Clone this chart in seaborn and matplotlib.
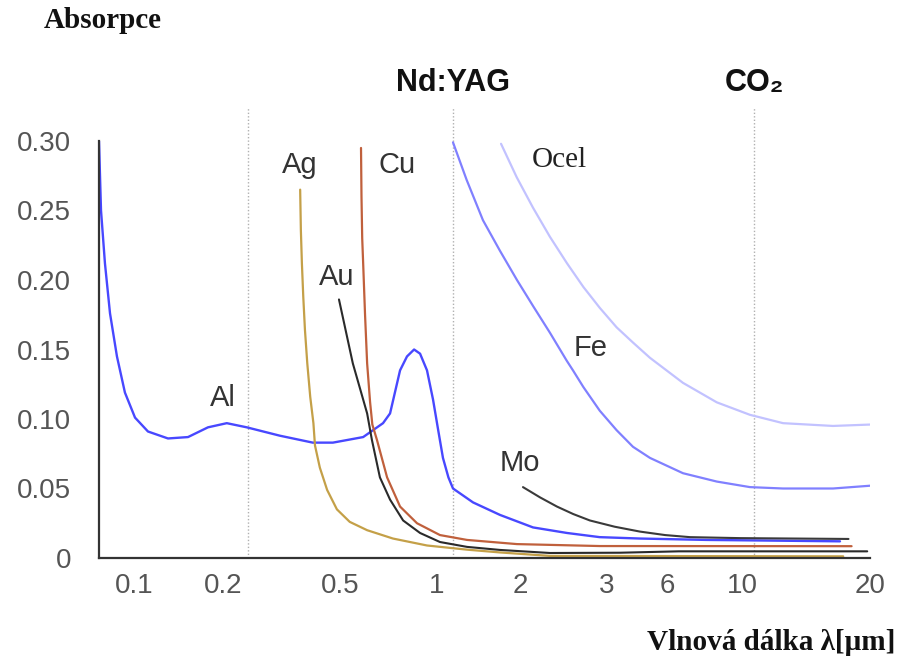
import numpy as np
import pandas as pd
import matplotlib
matplotlib.use("Agg")
import matplotlib.pyplot as plt
import seaborn as sns

# data: wavelength [um] vs absorption
al_wl = [0.0762, 0.0774, 0.0798, 0.0830, 0.0876, 0.0932, 0.1008, 0.1115, 0.1303, 0.1523, 0.1779,
         0.206, 0.241, 0.312, 0.404, 0.473, 0.590, 0.680, 0.715, 0.768, 0.807, 0.849, 0.886,
         0.931, 0.972, 1.010, 1.051, 1.10, 1.143, 1.351, 1.692, 2.125, 2.49, 2.90, 4.39, 7.88, 17.0]
al_abs = [0.300, 0.250, 0.212, 0.176, 0.145, 0.119, 0.101, 0.091, 0.086, 0.087, 0.094,
          0.097, 0.094, 0.088, 0.083, 0.083, 0.087, 0.097, 0.104, 0.135, 0.145, 0.150, 0.147,
          0.135, 0.114, 0.092, 0.072, 0.058, 0.050, 0.040, 0.031, 0.022, 0.018, 0.015, 0.014, 0.013, 0.012]

ag_wl = [0.366, 0.368, 0.371, 0.375, 0.380, 0.387, 0.396, 0.406, 0.411, 0.427, 0.452, 0.488,
         0.536, 0.607, 0.730, 0.931, 1.285, 1.692, 2.300, 17.3]
ag_abs = [0.265, 0.236, 0.212, 0.188, 0.164, 0.140, 0.116, 0.097, 0.081, 0.065, 0.049, 0.035,
          0.026, 0.020, 0.014, 0.009, 0.006, 0.004, 0.0015, 0.0012]

cu_wl = [0.581, 0.583, 0.586, 0.590, 0.598, 0.607, 0.620, 0.630, 0.651, 0.700, 0.768, 0.867,
         1.025, 1.285, 1.950, 2.90, 18.1]
cu_abs = [0.295, 0.260, 0.230, 0.212, 0.175, 0.140, 0.112, 0.096, 0.085, 0.058, 0.037, 0.025,
          0.0165, 0.013, 0.010, 0.0086, 0.0085]

au_wl = [0.496, 0.548, 0.607, 0.628, 0.665, 0.715, 0.785, 0.886, 1.025, 1.285, 1.692, 2.300,
         3.5, 6.5, 19.7]
au_abs = [0.186, 0.140, 0.104, 0.085, 0.058, 0.042, 0.027, 0.018, 0.0115, 0.008, 0.0058, 0.0036,
          0.0038, 0.0048, 0.0048]

mo_wl = [2.028, 2.196, 2.376, 2.564, 2.77, 3.28, 4.39, 5.87, 7.02, 9.86, 17.8]
mo_abs = [0.051, 0.0436, 0.037, 0.0316, 0.027, 0.0225, 0.019, 0.0165, 0.015, 0.0143, 0.0137]

fe_wl = [1.143, 1.281, 1.468, 1.692, 1.950, 2.128, 2.300, 2.486, 2.56, 2.687, 2.90, 3.35,
         4.05, 4.93, 6.69, 8.42, 10.44, 12.49, 16.37, 20.0]
fe_abs = [0.299, 0.272, 0.243, 0.221, 0.200, 0.181, 0.162, 0.142, 0.135, 0.123, 0.106, 0.092,
          0.080, 0.072, 0.061, 0.055, 0.051, 0.050, 0.050, 0.052]

ocel_wl = [1.707, 1.945, 2.125, 2.300, 2.49, 2.687, 2.90, 3.35, 4.05, 4.93, 6.69, 8.42,
           10.44, 12.49, 16.37, 20.0]
ocel_abs = [0.298, 0.274, 0.252, 0.231, 0.212, 0.195, 0.180, 0.166, 0.155, 0.144, 0.126, 0.112,
            0.103, 0.097, 0.095, 0.096]

laser_wl = [0.243, 1.14, 10.7]
laser_names = ["", "Nd:YAG", "CO₂"]

x_ticks = [0.1, 0.2, 0.5, 1, 2, 3, 6, 10, 20]
x_ticklabels = ["0.1", "0.2", "0.5", "1", "2", "3", "6", "10", "20"]
y_ticks = [0, 0.05, 0.10, 0.15, 0.20, 0.25, 0.30]
y_ticklabels = ["0", "0.05", "0.10", "0.15", "0.20", "0.25", "0.30"]

# the original axis is stretched unevenly; anchor wavelengths -> axis position
scale_anchor_um = np.array([0.0762, 0.1, 0.2, 0.5, 1, 2, 3, 6, 10, 20])
scale_anchor_px = np.array([99, 134, 223, 340, 437, 520, 607, 667, 742, 870], dtype=float)


def fwd(x):
    x = np.clip(np.asarray(x, dtype=float), 1e-6, None)
    return np.interp(np.log10(x), np.log10(scale_anchor_um), scale_anchor_px)


def inv(p):
    return 10 ** np.interp(p, scale_anchor_px, np.log10(scale_anchor_um))


sns.set_style("white")
sans = ["Liberation Sans", "DejaVu Sans"]
serif = ["Liberation Serif", "DejaVu Serif"]
plt.rcParams["font.family"] = sans

fig = plt.figure(figsize=(8.99, 6.62), dpi=100)
ax = fig.add_axes([99 / 899, 1 - 558 / 662, (870 - 99) / 899, (558 - 141) / 662])
ax.set_xscale("function", functions=(fwd, inv))

series = [
    (al_wl, al_abs, "#4848ff", 1.7),
    (ocel_wl, ocel_abs, "#c2c2ff", 1.6),
    (fe_wl, fe_abs, "#8080ff", 1.6),
    (ag_wl, ag_abs, "#c4a048", 1.6),
    (cu_wl, cu_abs, "#c0603c", 1.6),
    (au_wl, au_abs, "#2a2a2a", 1.5),
    (mo_wl, mo_abs, "#3a3a3a", 1.5),
]
for wl, ab, col, lw in series:
    df = pd.DataFrame({"wl": wl, "abs": ab})
    sns.lineplot(data=df, x="wl", y="abs", color=col, lw=lw, errorbar=None,
                 legend=False, ax=ax)

# laser wavelengths as dotted guides
for wl, name in zip(laser_wl, laser_names):
    ax.plot([wl, wl], [0, 0.324], ls=(0, (1, 1.5)), lw=1, color="#b0b0b0",
            clip_on=False, zorder=0)
    if name:
        ax.text(wl, 0.342, name, ha="center", va="center", fontsize=22,
                fontweight="bold", color="#111111", family=sans)

# curve labels
labels = [("Al", 0.181, 0.115), ("Ag", 0.317, 0.283), ("Cu", 0.656, 0.283),
          ("Au", 0.424, 0.202), ("Mo", 1.692, 0.068), ("Fe", 2.57, 0.151)]
for txt, lx, ly in labels:
    ax.text(lx, ly, txt, ha="left", va="center", fontsize=21, color="#333333")
ax.text(2.11, 0.286, "Ocel", ha="left", va="center", fontsize=21,
        color="#222222", family=serif)

ax.set_xlim(0.0762, 20)
ax.set_ylim(0, 0.30)
ax.set_xticks(x_ticks)
ax.set_xticklabels(x_ticklabels)
ax.set_yticks(y_ticks)
ax.set_yticklabels(y_ticklabels)
ax.minorticks_off()
ax.set_xlabel("")
ax.set_ylabel("")

sns.despine(ax=ax)
for s in ["left", "bottom"]:
    ax.spines[s].set_color("#333333")
    ax.spines[s].set_linewidth(1.6)
ax.tick_params(direction="inout", length=12, width=1.4, color="#333333",
               labelsize=20, labelcolor="#555555")
ax.tick_params(axis="y", pad=14)
ax.tick_params(axis="x", pad=5)

fig.text(103 / 899, 1 - 20 / 662, "Absorpce", ha="center", va="center",
         fontsize=21, fontweight="bold", family=serif, color="#111111")
fig.text(895 / 899, 1 - 643 / 662, "Vlnová dálka λ[µm]", ha="right", va="center",
         fontsize=21, fontweight="bold", family=serif, color="#111111")

fig.savefig("out.png", dpi=100)
